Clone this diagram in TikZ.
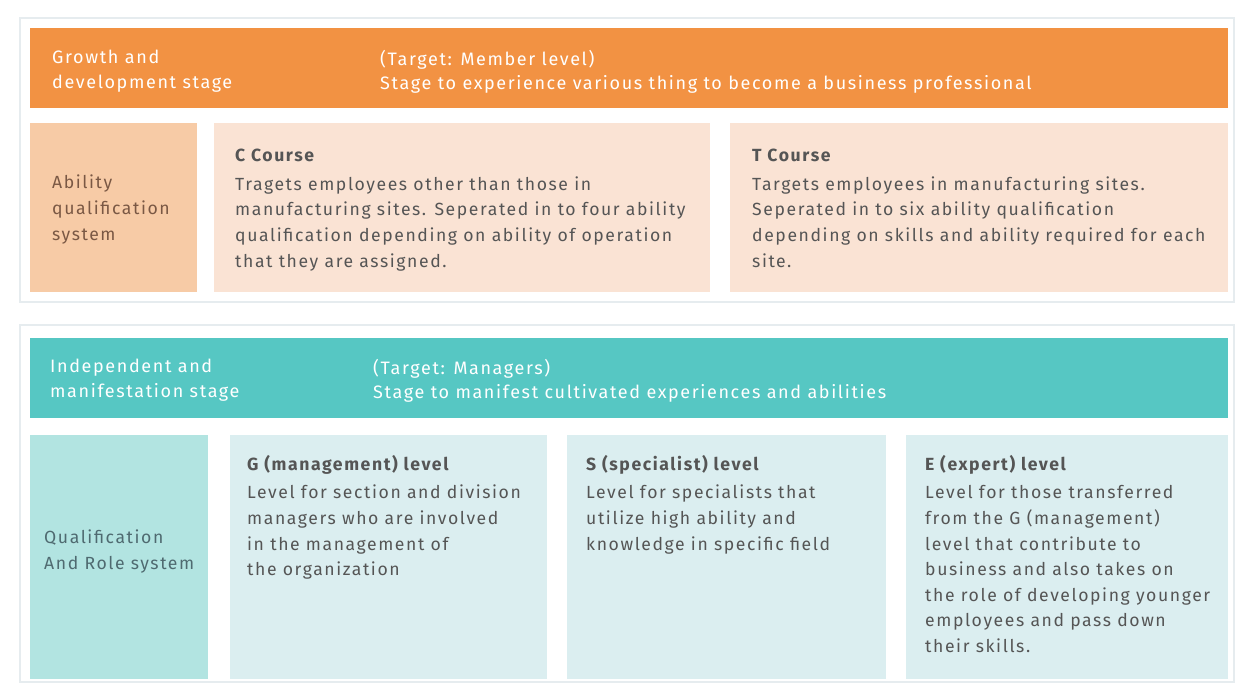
\documentclass[tikz,border=0pt]{standalone}
\usepackage{fontspec}
\setmainfont{Fira Sans}[LetterSpace=9]
\definecolor{orangebar}{HTML}{F29243}
\definecolor{peachdark}{HTML}{F7CBA6}
\definecolor{peachlight}{HTML}{FAE3D4}
\definecolor{tealbar}{HTML}{56C7C3}
\definecolor{tealmid}{HTML}{B2E4E1}
\definecolor{teallight}{HTML}{DBEEF0}
\definecolor{bodytext}{HTML}{555555}
\definecolor{browntext}{HTML}{7A5844}
\definecolor{tealtext}{HTML}{4F6A70}
\definecolor{framegray}{HTML}{E6ECEF}
\tikzset{
  panel/.style={anchor=north west, inner sep=0pt, draw=none},
  frame/.style={anchor=north west, inner sep=0pt, draw=framegray, line width=2pt, fill=white},
  txt/.style={anchor=north west, inner sep=0pt, align=left, font=\fontsize{17.6}{25.6}\selectfont},
  headtxt/.style={txt, text=white, font=\fontsize{18}{24.5}\selectfont},
}
\begin{document}
\begin{tikzpicture}[x=1pt,y=-1pt]
\useasboundingbox[fill=white] (0,0) rectangle (1236,684);
% top group
\node[frame, minimum width=1214pt, minimum height=284pt] (topframe) at (19,17) {};
\node[panel, fill=orangebar, minimum width=1198pt, minimum height=80pt] (topbar) at (30,28) {};
\node[panel, fill=peachdark, minimum width=167pt, minimum height=169pt] (abil) at (30,123) {};
\node[panel, fill=peachlight, minimum width=496pt, minimum height=169pt] (ccourse) at (214,123) {};
\node[panel, fill=peachlight, minimum width=498pt, minimum height=169pt] (tcourse) at (730,123) {};
\node[headtxt] (growth) at (52,50) {Growth and\\development stage};
\node[headtxt] (member) at (380,50) {(Target: Member level)\\Stage to experience various thing to become a business professional};
\node[txt, text=browntext] (abiltxt) at (52,175) {Ability\\qualification\\system};
\node[txt, text=bodytext] (ctxt) at (235,149) {\textbf{C Course}\\[3pt]Tragets employees other than those in\\manufacturing sites. Seperated in to four ability\\qualification depending on ability of operation\\that they are assigned.};
\node[txt, text=bodytext] (ttxt) at (752,149) {\textbf{T Course}\\[3pt]Targets employees in manufacturing sites.\\Seperated in to six ability qualification\\depending on skills and ability required for each\\site.};
% bottom group
\node[frame, minimum width=1214pt, minimum height=357pt] (botframe) at (19,324) {};
\node[panel, fill=tealbar, minimum width=1198pt, minimum height=80pt] (botbar) at (30,338) {};
\node[panel, fill=tealmid, minimum width=178pt, minimum height=244pt] (qual) at (30,435) {};
\node[panel, fill=teallight, minimum width=317pt, minimum height=244pt] (glevel) at (230,435) {};
\node[panel, fill=teallight, minimum width=319pt, minimum height=244pt] (slevel) at (567,435) {};
\node[panel, fill=teallight, minimum width=322pt, minimum height=244pt] (elevel) at (906,435) {};
\node[headtxt] (indep) at (50,359) {Independent and\\manifestation stage};
\node[headtxt] (managers) at (373,359) {(Target: Managers)\\Stage to manifest cultivated experiences and abilities};
\node[txt, text=tealtext] (qualtxt) at (44,530) {Qualification\\And Role system};
\node[txt, text=bodytext] (gtxt) at (247,455) {\textbf{G (management) level}\\[3pt]Level for section and division\\managers who are involved\\in the management of\\the organization};
\node[txt, text=bodytext] (stxt) at (586,455) {\textbf{S (specialist) level}\\[3pt]Level for specialists that\\utilize high ability and\\knowledge in specific field};
\node[txt, text=bodytext] (etxt) at (925,455) {\textbf{E (expert) level}\\[3pt]Level for those transferred\\from the G (management)\\level that contribute to\\business and also takes on\\the role of developing younger\\employees and pass down\\their skills.};
\end{tikzpicture}
\end{document}
